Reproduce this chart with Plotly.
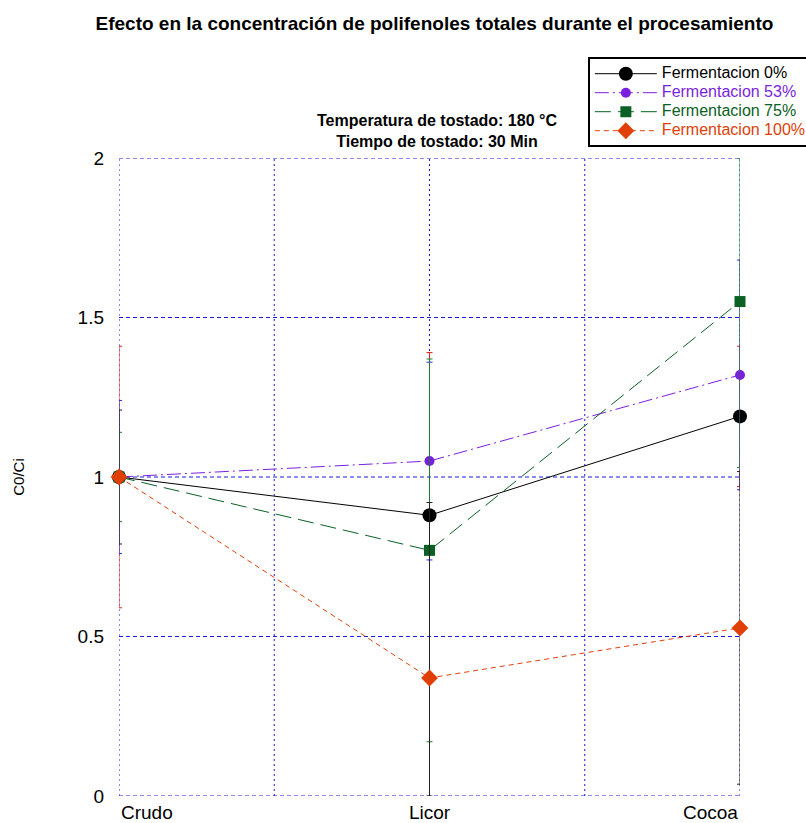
import plotly.graph_objects as go

# Processing stages on the x axis
stages = ["Crudo", "Licor", "Cocoa"]
stage_pos = [0, 1, 2]

# C0/Ci ratio per fermentation level
series_names = ["Fermentacion 0%", "Fermentacion 53%", "Fermentacion 75%", "Fermentacion 100%"]
ratio_f0 = [1.0, 0.88, 1.19]
ratio_f53 = [1.0, 1.05, 1.32]
ratio_f75 = [1.0, 0.77, 1.55]
ratio_f100 = [1.0, 0.37, 0.527]

# Error (± half-width) for each point
err_f0 = [0.41, 0.51, 0.22]
err_f53 = [0.24, 0.31, 0.36]
err_f75 = [0.14, 0.60, 0.52]
err_f100 = [0.21, 0.55, 0.49]

y_ticks = [0, 0.5, 1, 1.5, 2]
y_tick_text = ["0", "0.5", "1", "1.5", "2"]
x_grid = [0, 0.5, 1, 1.5, 2]
y_min, y_max = 0, 2

FONT = "Liberation Sans, Arial, sans-serif"
GRID = "#1a1ae0"

styles = [
    dict(color="#000000", err_color="#e0201a", dash="solid", symbol="circle", size=14),
    dict(color="#7a1fe0", err_color="#2a2ae6", dash="14px,4px,2px,4px", symbol="circle", size=10),
    dict(color="#0b6124", err_color="#1f7a30", dash="16px,7px", symbol="square", size=11),
    dict(color="#e04008", err_color="#222222", dash="5px,4px", symbol="diamond", size=13),
]
values = [ratio_f0, ratio_f53, ratio_f75, ratio_f100]
errors = [err_f0, err_f53, err_f75, err_f100]

fig = go.Figure()
for name, ys, es, st in zip(series_names, values, errors, styles):
    # keep the bars inside the plotted range
    plus = [min(e, y_max - y) for y, e in zip(ys, es)]
    minus = [min(e, y - y_min) for y, e in zip(ys, es)]
    fig.add_trace(go.Scatter(
        x=stage_pos, y=ys,
        name=f'<span style="color:{st["color"]};font-size:16px">{name}</span>',
        mode="lines+markers",
        line=dict(color=st["color"], width=1, dash=st["dash"]),
        marker=dict(color=st["color"], symbol=st["symbol"], size=st["size"],
                    line=dict(width=0)),
        error_y=dict(type="data", symmetric=False, array=plus, arrayminus=minus,
                     color=st["err_color"], thickness=1, width=3),
        cliponaxis=False,
    ))

# grid drawn as shapes so the frame lines at the range edges show too
shapes = []
for yv in y_ticks:
    shapes.append(dict(type="line", xref="paper", yref="y", x0=0, x1=1, y0=yv, y1=yv,
                       line=dict(color=GRID, width=1, dash="4px,3px"), layer="below"))
for xv in x_grid:
    shapes.append(dict(type="line", xref="x", yref="paper", x0=xv, x1=xv, y0=0, y1=1,
                       line=dict(color=GRID, width=1, dash="2px,3px"), layer="below"))

annotations = [
    dict(text="<b>Temperatura de tostado: 180 °C<br>Tiempo de tostado: 30 Min</b>",
         x=0.512, y=1.042, xref="paper", yref="paper", showarrow=False,
         xanchor="center", yanchor="middle", font=dict(size=16, family=FONT, color="#000")),
    dict(text="C0/Ci", x=-0.163, y=0.5, xref="paper", yref="paper", showarrow=False,
         textangle=-90, xanchor="center", yanchor="middle",
         font=dict(size=15, family=FONT, color="#000")),
]
anchors = ["left", "center", "right"]
for s, p, a in zip(stages, stage_pos, anchors):
    annotations.append(dict(text=s, x=p, y=-0.026, xref="x", yref="paper", showarrow=False,
                            xanchor=a, yanchor="middle",
                            font=dict(size=19, family=FONT, color="#000")))

fig.update_layout(
    width=806, height=823,
    margin=dict(l=119, r=66, t=158, b=27, autoexpand=False),
    paper_bgcolor="white", plot_bgcolor="white",
    font=dict(family=FONT, color="#000", size=15),
    title=dict(text="<b>Efecto en la concentración de polifenoles totales durante el procesamiento</b>",
               x=0.539, xref="container", xanchor="center",
               y=1 - 23 / 823, yref="container", yanchor="middle",
               font=dict(size=19, family=FONT, color="#000")),
    xaxis=dict(range=[0, 2], showticklabels=False, showgrid=False,
               zeroline=False, showline=False, ticks=""),
    yaxis=dict(range=[y_min, y_max], tickvals=y_ticks, ticktext=y_tick_text,
               showgrid=False, zeroline=False, showline=False, ticks="",
               ticklabelstandoff=14,
               tickfont=dict(size=19, family=FONT, color="#000")),
    legend=dict(x=0.755, y=1.158, xanchor="left", yanchor="top",
                bordercolor="#000", borderwidth=2, bgcolor="white",
                font=dict(size=12, family=FONT), tracegroupgap=0,
                itemwidth=62),
    shapes=shapes,
    annotations=annotations,
    showlegend=True,
)

fig.write_html("out.html")
